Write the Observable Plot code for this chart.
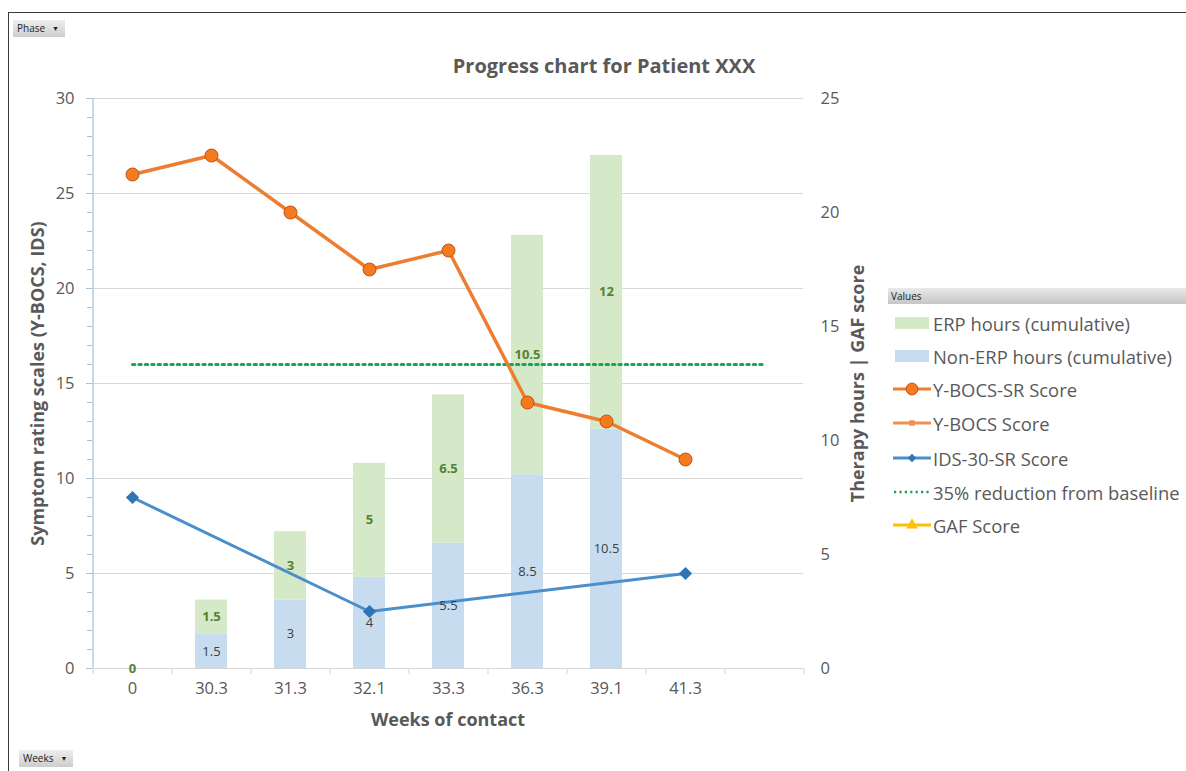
<!DOCTYPE html>
<html>
<head>
<meta charset="utf-8">
<script src="https://cdn.jsdelivr.net/npm/d3@7"></script>
<script src="https://cdn.jsdelivr.net/npm/@observablehq/plot@0.6"></script>
<style>
  body { margin: 0; background: #fff; }
  #chart { position: relative; width: 1186px; height: 771px; overflow: hidden; font-family: "Open Sans", sans-serif; color: #595959; }
  #chart > svg { position: absolute; left: 0; top: 0; }
  .frame-border { position: absolute; left: 8px; top: 12px; right: -2px; bottom: -2px; border-left: 1.5px solid #3a3a3a; border-top: 1.5px solid #3a3a3a; }
  .field-btn { position: absolute; height: 17px; background: linear-gradient(#eeeeee, #cdcdcd); font-size: 10px; color: #222; line-height: 17px; padding: 0 6px 0 4px; box-sizing: border-box; }
  .field-btn span { font-size: 7px; margin-left: 7px; position: relative; top: -1px; }
  .legend-head { position: absolute; left: 888px; top: 288px; width: 298px; height: 16px; background: linear-gradient(#e9e9e9, #c6c6c6); font-size: 10px; color: #222; line-height: 16px; padding-left: 3px; box-sizing: border-box; }
  .legend-row { position: absolute; left: 893px; height: 22px; display: flex; align-items: center; font-size: 18.4px; color: #595959; white-space: nowrap; }
  .legend-row svg { margin-right: 2px; }
</style>
</head>
<body>
<div id="chart"></div>
<script>
// Categories on the x axis (the last band is an empty slot)
const weeks = ["0", "30.3", "31.3", "32.1", "33.3", "36.3", "39.1", "41.3", ""];

// Symptom scores (left axis)
const ybocsSR = [26, 27, 24, 21, 22, 14, 13, 11, null];
const ids30SR = [9, null, null, 3, null, null, null, 5, null];
const reduction35 = [16, 16, 16, 16, 16, 16, 16, 16, 16];

// Therapy hours, cumulative (right axis)
const nonErpHours = [0, 1.5, 3, 4, 5.5, 8.5, 10.5, null, null];
const erpHours = [0, 1.5, 3, 5, 6.5, 10.5, 12, null, null];

// Axis ticks
const symptomTicks = [0, 5, 10, 15, 20, 25, 30];
const hoursTicks = [0, 5, 10, 15, 20, 25];

const colors = {
  erp: "#d5e8c7",
  nonErp: "#c8dcf0",
  ybocsSR: "#ED7D31",
  ybocsSRDot: "#F47A1F",
  ybocsSRDotStroke: "#C4520F",
  ybocs: "#F0904F",
  ids: "#4A8FCB",
  idsDot: "#2E75B6",
  target: "#1BA35A",
  gaf: "#FFC000",
  grid: "#d9d9d9",
  axisLine: "#a8c2da",
  text: "#595959",
  erpLabel: "#548235",
  nonErpLabel: "#404040"
};

// Layout
const W = 1186, H = 771;
const marginLeft = 92, marginRight = 383, marginTop = 98, marginBottom = 103;
const step = (W - marginLeft - marginRight) / weeks.length;

// Hours are plotted against the symptom scale: both axes share the frame
const k = symptomTicks[symptomTicks.length - 1] / hoursTicks[hoursTicks.length - 1];

// Stacked bar segments: non-ERP at the bottom, ERP on top
const segments = [];
weeks.forEach((w, i) => {
  const n = nonErpHours[i], e = erpHours[i];
  if (n != null) segments.push({week: w, series: "nonErp", lo: 0, hi: n, value: n});
  if (e != null) segments.push({week: w, series: "erp", lo: n ?? 0, hi: (n ?? 0) + e, value: e});
});

const ybocsData = weeks.map((w, i) => ({week: w, v: ybocsSR[i]})).filter(d => d.v != null);
const idsData = weeks.map((w, i) => ({week: w, v: ids30SR[i]})).filter(d => d.v != null);
const targetData = weeks.map((w, i) => ({week: w, v: reduction35[i]}));

const minorTicks = d3.range(0, symptomTicks[symptomTicks.length - 1] + 1, 1);

const plot = Plot.plot({
  width: W,
  height: H,
  marginLeft, marginRight, marginTop, marginBottom,
  style: {fontFamily: "'Open Sans', sans-serif", color: colors.text, background: "transparent", overflow: "visible"},
  x: {type: "band", domain: weeks, paddingInner: 0.6, paddingOuter: 0.3, label: null},
  y: {domain: [0, 30], label: null},
  marks: [
    // horizontal gridlines
    Plot.ruleY(symptomTicks.slice(1), {stroke: colors.grid, strokeWidth: 1}),
    // bars
    Plot.barY(segments, {
      x: "week",
      y1: d => d.lo * k,
      y2: d => d.hi * k,
      fill: d => d.series === "erp" ? colors.erp : colors.nonErp
    }),
    // x axis line and category separators
    Plot.ruleY([0], {stroke: colors.grid, strokeWidth: 1.2}),
    Plot.ruleX(weeks, {x: d => d, y1: 0, y2: -0.32, dx: -step / 2, stroke: colors.grid, strokeWidth: 1.2}),
    Plot.ruleX([weeks[weeks.length - 1]], {x: d => d, y1: 0, y2: -0.32, dx: step / 2, stroke: colors.grid, strokeWidth: 1.2}),
    // left axis line with minor ticks
    Plot.ruleX([weeks[0]], {x: d => d, dx: -step / 2, stroke: colors.axisLine, strokeWidth: 1.2}),
    Plot.axisY({anchor: "left", ticks: minorTicks, tickSize: 5, tickFormat: () => "", stroke: colors.axisLine, label: null}),
    Plot.axisY({anchor: "left", ticks: symptomTicks, tickSize: 6, tickPadding: 12, fontSize: 16.5, fill: colors.text, stroke: colors.axisLine, label: null}),
    // right axis (therapy hours)
    Plot.axisY({anchor: "right", ticks: hoursTicks.map(h => h * k), tickFormat: v => String(Math.round(v / k)), tickSize: 0, tickPadding: 17, fontSize: 16.5, fill: colors.text, label: null}),
    // x axis labels
    Plot.axisX({anchor: "bottom", tickSize: 0, tickPadding: 14, fontSize: 16.5, fill: colors.text, label: null}),
    // 35% reduction target
    Plot.line(targetData, {x: "week", y: "v", stroke: colors.target, strokeWidth: 3, strokeDasharray: "2.4,4"}),
    // IDS-30-SR
    Plot.line(idsData, {x: "week", y: "v", stroke: colors.ids, strokeWidth: 3}),
    Plot.dot(idsData, {x: "week", y: "v", symbol: "diamond2", r: 5, fill: colors.idsDot, stroke: colors.idsDot}),
    // Y-BOCS-SR
    Plot.line(ybocsData, {x: "week", y: "v", stroke: colors.ybocsSR, strokeWidth: 3.5}),
    Plot.dot(ybocsData, {x: "week", y: "v", r: 6.5, fill: colors.ybocsSRDot, stroke: colors.ybocsSRDotStroke, strokeWidth: 1}),
    // data labels
    Plot.text(segments.filter(d => d.series === "nonErp" && d.value > 0), {
      x: "week", y: d => (d.lo + d.hi) / 2 * k, text: d => String(d.value),
      fill: colors.nonErpLabel, fontSize: 13
    }),
    Plot.text(segments.filter(d => d.series === "erp"), {
      x: "week", y: d => (d.lo + d.hi) / 2 * k, text: d => String(d.value),
      fill: colors.erpLabel, fontSize: 13, fontWeight: "bold"
    }),
    // titles
    Plot.text(["Progress chart for Patient XXX"], {frameAnchor: "top", text: d => d, textAnchor: "middle", lineAnchor: "middle", dx: 156, dy: -32, fontSize: 20, fontWeight: "bold", fill: colors.text}),
    Plot.text(["Symptom rating scales (Y-BOCS, IDS)"], {frameAnchor: "left", text: d => d, textAnchor: "middle", lineAnchor: "middle", dx: -54, rotate: -90, fontSize: 18, fontWeight: "bold", fill: colors.text}),
    Plot.text(["Therapy hours | GAF score"], {frameAnchor: "right", text: d => d, textAnchor: "middle", lineAnchor: "middle", dx: 55, rotate: -90, fontSize: 18, fontWeight: "bold", fill: colors.text}),
    Plot.text(["Weeks of contact"], {frameAnchor: "bottom", text: d => d, textAnchor: "middle", lineAnchor: "middle", dy: 52, fontSize: 18, fontWeight: "bold", fill: colors.text})
  ]
});

const chart = document.getElementById("chart");
chart.appendChild(plot);

// Sheet frame and pivot field buttons
const border = document.createElement("div");
border.className = "frame-border";
chart.appendChild(border);

function fieldButton(label, left, top) {
  const b = document.createElement("div");
  b.className = "field-btn";
  b.style.left = left + "px";
  b.style.top = top + "px";
  b.innerHTML = label + "<span>&#9660;</span>";
  chart.appendChild(b);
}
fieldButton("Phase", 13, 20);
fieldButton("Weeks", 19, 750);

// Legend
const head = document.createElement("div");
head.className = "legend-head";
head.textContent = "Values";
chart.appendChild(head);

const legendItems = [
  {label: "ERP hours (cumulative)", kind: "bar", color: colors.erp},
  {label: "Non-ERP hours (cumulative)", kind: "bar", color: colors.nonErp},
  {label: "Y-BOCS-SR Score", kind: "line", color: colors.ybocsSR, marker: "circle", markerFill: colors.ybocsSRDot, markerStroke: colors.ybocsSRDotStroke},
  {label: "Y-BOCS Score", kind: "line", color: colors.ybocs, marker: "square", markerFill: colors.ybocs},
  {label: "IDS-30-SR Score", kind: "line", color: colors.ids, marker: "diamond", markerFill: colors.idsDot},
  {label: "35% reduction from baseline", kind: "dotted", color: colors.target},
  {label: "GAF Score", kind: "line", color: colors.gaf, marker: "triangle", markerFill: colors.gaf}
];
const rowTops = [312, 345, 378, 412, 447, 481, 514];

legendItems.forEach((item, i) => {
  const row = document.createElement("div");
  row.className = "legend-row";
  row.style.top = rowTops[i] + "px";
  const svg = d3.create("svg").attr("width", 38).attr("height", 22);
  if (item.kind === "bar") {
    svg.append("rect").attr("x", 2).attr("y", 5).attr("width", 34).attr("height", 12).attr("fill", item.color);
  } else if (item.kind === "dotted") {
    svg.append("line").attr("x1", 1).attr("x2", 37).attr("y1", 11).attr("y2", 11)
      .attr("stroke", item.color).attr("stroke-width", 2.5).attr("stroke-dasharray", "2.2,3.2");
  } else {
    svg.append("line").attr("x1", 0).attr("x2", 38).attr("y1", 11).attr("y2", 11)
      .attr("stroke", item.color).attr("stroke-width", 3);
    const sym = {circle: d3.symbolCircle, square: d3.symbolSquare, diamond: d3.symbolDiamond2, triangle: d3.symbolTriangle}[item.marker];
    const size = {circle: 110, square: 30, diamond: 45, triangle: 60}[item.marker];
    svg.append("path").attr("d", d3.symbol(sym, size)()).attr("transform", "translate(19,11)")
      .attr("fill", item.markerFill).attr("stroke", item.markerStroke || "none").attr("stroke-width", 1);
  }
  row.appendChild(svg.node());
  const span = document.createElement("span");
  span.textContent = item.label;
  row.appendChild(span);
  chart.appendChild(row);
});
</script>
</body>
</html>
